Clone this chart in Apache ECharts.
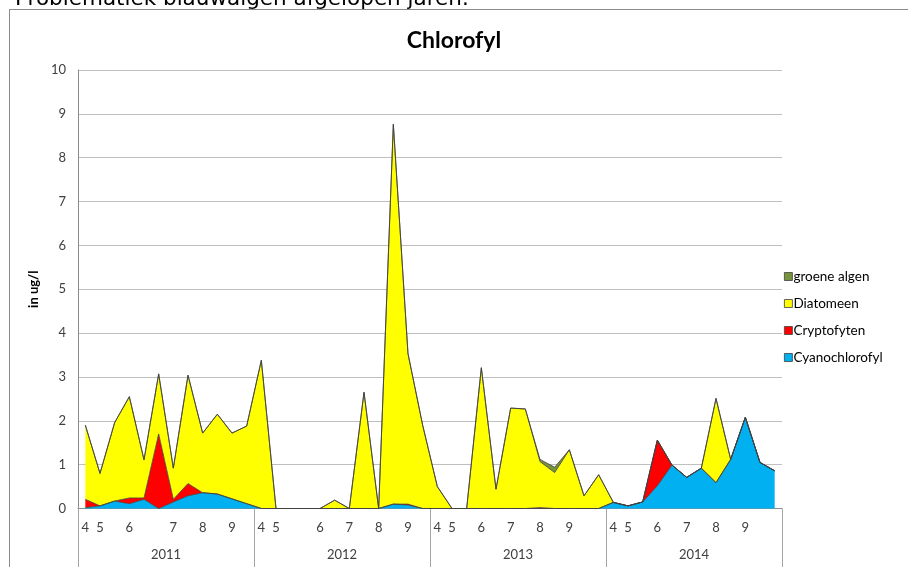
<!DOCTYPE html>
<html>
<head>
<meta charset="utf-8">
<script src="https://cdn.jsdelivr.net/npm/echarts@6/dist/echarts.min.js"></script>
<style>
  html, body { margin:0; padding:0; background:#fff; }
  #frame { position:absolute; left:9px; top:9px; width:899px; height:558px; border-left:1px solid #8c8c8c; border-top:1px solid #8c8c8c; box-sizing:border-box; }
  #chart { position:absolute; left:0; top:0; width:908px; height:567px; }
</style>
</head>
<body>
<div id="frame"></div>
<div id="chart"></div>
<script>
// categories: 4 seasons (april..september) x 12 samples
const years = ['2011', '2012', '2013', '2014'];
const monthLabels = [
  '4','5','','6','','','7','','8','','9','',
  '4','5','','','6','','7','','8','','9','',
  '4','5','','6','','7','','8','','9','','',
  '4','5','','6','','7','','8','','9','',''
];
const categories = monthLabels.map((m, i) => years[Math.floor(i / 12)] + '-' + i);

const cyanochlorofyl = [
  0.02, 0.06, 0.17, 0.11, 0.21, 0.00, 0.15, 0.29, 0.36, 0.33, 0.22, 0.11,
  0.00, 0.00, 0.00, 0.00, 0.00, 0.00, 0.00, 0.00, 0.00, 0.10, 0.08, 0.00,
  0.00, 0.00, 0.00, 0.00, 0.00, 0.00, 0.00, 0.00, 0.00, 0.00, 0.00, 0.00,
  0.14, 0.06, 0.15, 0.52, 0.99, 0.71, 0.92, 0.59, 1.12, 2.08, 1.05, 0.86
];
const cryptofyten = [
  0.19, 0.00, 0.00, 0.13, 0.03, 1.70, 0.06, 0.28, 0.00, 0.00, 0.00, 0.00,
  0.00, 0.00, 0.00, 0.00, 0.00, 0.00, 0.00, 0.00, 0.00, 0.00, 0.02, 0.00,
  0.00, 0.00, 0.00, 0.00, 0.00, 0.00, 0.00, 0.02, 0.00, 0.00, 0.00, 0.00,
  0.00, 0.00, 0.00, 1.04, 0.00, 0.00, 0.00, 0.00, 0.00, 0.00, 0.00, 0.00
];
const diatomeen = [
  1.69, 0.74, 1.79, 2.31, 0.87, 1.37, 0.71, 2.47, 1.36, 1.82, 1.50, 1.77,
  3.38, 0.00, 0.00, 0.00, 0.00, 0.19, 0.00, 2.65, 0.00, 8.66, 3.43, 1.90,
  0.50, 0.00, 0.00, 3.21, 0.44, 2.29, 2.27, 1.05, 0.82, 1.34, 0.29, 0.77,
  0.00, 0.00, 0.00, 0.00, 0.00, 0.00, 0.00, 1.92, 0.00, 0.00, 0.00, 0.00
];
const groeneAlgen = [
  0, 0, 0, 0, 0, 0, 0, 0, 0, 0, 0, 0,
  0, 0, 0, 0, 0, 0, 0, 0, 0, 0, 0, 0,
  0, 0, 0, 0, 0, 0, 0, 0.05, 0.12, 0, 0, 0,
  0, 0, 0, 0, 0, 0, 0, 0, 0, 0, 0, 0
];
const yTicks = { min: 0, max: 10, interval: 1 };

const seriesDefs = [
  { name: 'Cyanochlorofyl', data: cyanochlorofyl, color: '#00B0F0' },
  { name: 'Cryptofyten', data: cryptofyten, color: '#FF0000' },
  { name: 'Diatomeen', data: diatomeen, color: '#FFFF00' },
  { name: 'groene algen', data: groeneAlgen, color: '#77933C' }
];

const chart = echarts.init(document.getElementById('chart'), null, { renderer: 'canvas' });
const font = 'Lato, "Open Sans", sans-serif';
chart.setOption({
  animation: false,
  backgroundColor: 'transparent',
  title: [
    { text: 'Chlorofyl', left: 'center', top: 24,
      textStyle: { fontFamily: font, fontWeight: 'bold', fontSize: 23, color: '#000' } },
    { text: 'Problematiek blauwalgen afgelopen jaren.', left: 10, top: -16,
      textStyle: { fontFamily: 'DejaVu Sans', fontWeight: 'normal', fontSize: 21.5, lineHeight: 21, color: '#000' } }
  ],
  legend: {
    orient: 'vertical', left: 779, top: 264, itemGap: 12,
    itemWidth: 8, itemHeight: 8, icon: 'rect',
    data: ['groene algen', 'Diatomeen', 'Cryptofyten', 'Cyanochlorofyl'],
    textStyle: { fontFamily: font, fontSize: 13.5, lineHeight: 15, color: '#000', padding: [0, 0, 0, -4] },
    itemStyle: { borderColor: '#404040', borderWidth: 0.8 }
  },
  grid: { left: 78, right: 126, top: 70, bottom: 58.5, containLabel: false },
  xAxis: [
    {
      type: 'category', data: categories, boundaryGap: true, position: 'bottom',
      axisLine: { lineStyle: { color: '#8c8c8c', width: 1 } },
      axisTick: { show: true, interval: (i) => i % 12 === 0 && i < 48, length: 62, lineStyle: { color: '#a6a6a6' } },
      axisLabel: { interval: 0, margin: 13, fontFamily: font, fontSize: 13, color: '#404040',
        formatter: (v, i) => monthLabels[i] }
    },
    {
      type: 'category', data: years, boundaryGap: true, position: 'bottom', gridIndex: 0,
      axisLine: { show: false }, axisTick: { show: false },
      axisLabel: { margin: 40, fontFamily: font, fontSize: 13, color: '#404040' }
    }
  ],
  yAxis: {
    type: 'value', min: yTicks.min, max: yTicks.max, interval: yTicks.interval,
    name: 'in ug/l', nameLocation: 'middle', nameGap: 36, nameRotate: 90,
    nameTextStyle: { fontFamily: font, fontWeight: 'bold', fontSize: 13, color: '#000' },
    axisLine: { show: true, lineStyle: { color: '#8c8c8c' } },
    axisTick: { show: false },
    axisLabel: { margin: 12, fontFamily: font, fontSize: 13, color: '#404040' },
    splitLine: { lineStyle: { color: '#bfbfbf', width: 1 } }
  },
  series: seriesDefs.map(s => ({
    name: s.name, type: 'line', stack: 'total', data: s.data, xAxisIndex: 0,
    symbol: 'none', showSymbol: false, smooth: false,
    color: s.color,
    itemStyle: { color: s.color, borderColor: '#404040' },
    lineStyle: { color: '#404040', width: 0.8 },
    areaStyle: { color: s.color, opacity: 1 },
    emphasis: { disabled: true }
  }))
});
</script>
</body>
</html>
